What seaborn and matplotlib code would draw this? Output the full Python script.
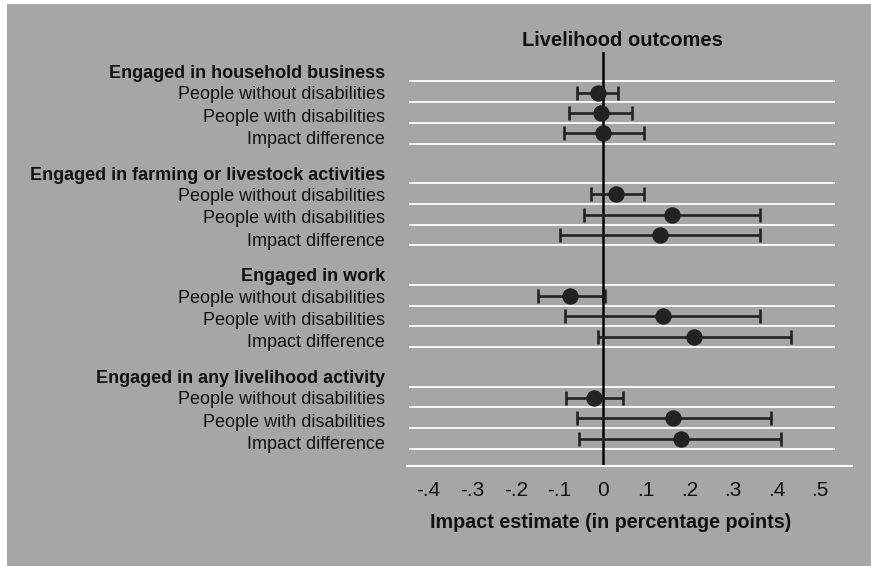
import matplotlib
matplotlib.use("Agg")
import matplotlib.pyplot as plt
import seaborn as sns
import pandas as pd
import numpy as np
from matplotlib.patches import Rectangle

# ---- data ----
groups = ["Engaged in household business",
          "Engaged in farming or livestock activities",
          "Engaged in work",
          "Engaged in any livelihood activity"]
rows = ["People without disabilities", "People with disabilities", "Impact difference"]

estimates = [
    [-0.012, -0.005, 0.000],
    [0.030, 0.159, 0.131],
    [-0.075, 0.138, 0.210],
    [-0.019, 0.162, 0.179],
]
ci_low = [
    [-0.060, -0.078, -0.088],
    [-0.028, -0.042, -0.099],
    [-0.149, -0.087, -0.012],
    [-0.084, -0.060, -0.055],
]
ci_high = [
    [0.035, 0.067, 0.094],
    [0.094, 0.361, 0.361],
    [0.006, 0.361, 0.433],
    [0.047, 0.386, 0.409],
]
xticks = [-0.4, -0.3, -0.2, -0.1, 0, 0.1, 0.2, 0.3, 0.4, 0.5]
xticklabels = ["-.4", "-.3", "-.2", "-.1", "0", ".1", ".2", ".3", ".4", ".5"]
title = "Livelihood outcomes"
xlabel = "Impact estimate (in percentage points)"

# ---- build table ----
recs = []
for g, grp in enumerate(groups):
    for r, row in enumerate(rows):
        recs.append(dict(group=grp, row=row, pos=g * 5 + r + 1,
                         est=estimates[g][r], lo=ci_low[g][r], hi=ci_high[g][r]))
df = pd.DataFrame(recs)

sns.set_style("white")
fam = ["Liberation Sans Narrow", "Liberation Sans", "DejaVu Sans"]
plt.rcParams["font.family"] = fam

BG = "#a6a6a6"
DARK = "#222222"
TXT = "#111111"

fig = plt.figure(figsize=(8.71, 5.66), dpi=100, facecolor="white")
fig.patches.append(Rectangle((7 / 871, 0), 1, 1 - 4 / 566, transform=fig.transFigure,
                             facecolor=BG, edgecolor="none", zorder=-10))
ax = fig.add_axes([407 / 871, 1 - 466 / 566, 445 / 871, (466 - 52) / 566])
ax.set_facecolor(BG)

# gridlines between rows
for g in range(len(groups)):
    for k in range(4):
        ax.hlines(g * 5 + 0.45 + k * 1.02, -0.445, 0.533, color="white", lw=1.3, zorder=1)

ax.axvline(0, color="black", lw=1.8, zorder=2)

ax.errorbar(df["est"], df["pos"],
            xerr=[df["est"] - df["lo"], df["hi"] - df["est"]],
            fmt="none", ecolor=DARK, elinewidth=1.9, capsize=5, capthick=1.9, zorder=3)
sns.scatterplot(data=df, x="est", y="pos", ax=ax, color=DARK, s=140,
                edgecolor=DARK, linewidth=0, zorder=4)

ax.set_xlim(-0.45, 0.573)
ax.set_ylim(19.35, -1.0)

# y labels
ypos, ylabs, bold = [], [], []
for g, grp in enumerate(groups):
    ypos.append(g * 5 - 0.05); ylabs.append(grp); bold.append(True)
    for r, row in enumerate(rows):
        ypos.append(g * 5 + r + 1 + 0.1 * r); ylabs.append(row); bold.append(False)
ax.set_yticks(ypos)
ax.set_yticklabels(ylabs, fontsize=13, color=TXT)
for lab, b in zip(ax.get_yticklabels(), bold):
    if b:
        lab.set_fontweight("bold")
ax.tick_params(axis="y", length=0, pad=16)

ax.set_xticks(xticks)
ax.set_xticklabels(xticklabels, fontsize=15, color=TXT)
ax.tick_params(axis="x", direction="out", length=7, width=1.5, color="white", pad=4)

for s in ["top", "right", "left"]:
    ax.spines[s].set_visible(False)
ax.spines["bottom"].set_color("white")
ax.spines["bottom"].set_linewidth(1.5)

ax.set_xlabel(xlabel, fontsize=14.2, fontweight="bold", color=TXT)
ax.xaxis.set_label_coords((611 - 407) / 445, -(523 - 466) / 414, transform=ax.transAxes)
ax.xaxis.label.set_va("center")
ax.set_ylabel("")
fig.text(622 / 871, 1 - 40 / 566, title, fontsize=14.5, fontweight="bold",
         ha="center", va="center", color=TXT)

fig.savefig("out.png", dpi=100, facecolor=fig.get_facecolor())
